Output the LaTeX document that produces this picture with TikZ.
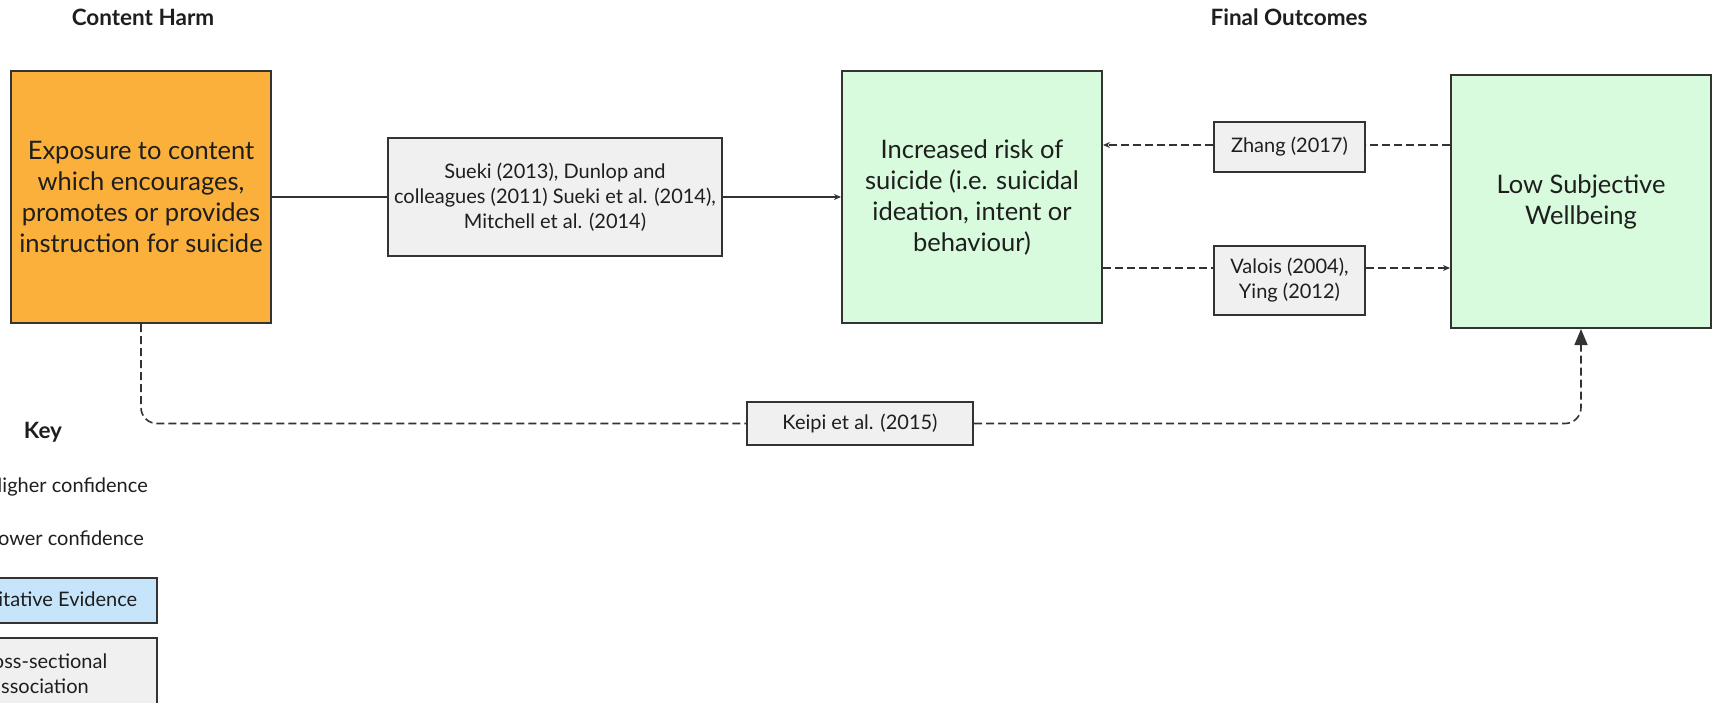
\documentclass[tikz,border=0pt]{standalone}
\usepackage{fontspec}
\setmainfont{Lato}
\usetikzlibrary{arrows.meta,calc}
\definecolor{harm}{HTML}{FBB03B}
\definecolor{outcome}{HTML}{D7FBDC}
\definecolor{cite}{HTML}{F0F0F0}
\definecolor{quant}{HTML}{C6E5FA}
\definecolor{ink}{HTML}{1E1E1E}
\definecolor{edge}{HTML}{333333}

\begin{document}
\begin{tikzpicture}[x=1pt,y=-1pt,
  box/.style={draw=edge, line width=2pt, align=center, text=ink, inner sep=4pt},
  bigbox/.style={box, minimum width=260pt, minimum height=252pt, font=\fontsize{25.5}{31}\selectfont},
  citebox/.style={box, fill=cite, font=\fontsize{20}{25}\selectfont},
  keytext/.style={text=ink, inner sep=0pt, font=\fontsize{20}{25}\selectfont},
  link/.style={draw=edge, line width=1.6pt},
  lowconf/.style={link, dash pattern=on 8pt off 4pt},
  tip/.style={-{Stealth[length=7pt,width=6pt]}},
  title/.style={font=\bfseries\fontsize{22.5}{26}\selectfont, text=ink},
]
\useasboundingbox (0,0) rectangle (1713,702);
\clip (0,0) rectangle (1713,702);

% column titles
\node[title] (t1) at (143,17) {Content Harm};
\node[title] (t2) at (1289,17) {Final Outcomes};

% main boxes
\node[bigbox, fill=harm] (harm) at (141,197)
  {Exposure to content\\ which encourages,\\ promotes or provides\\ instruction for suicide};
\node[bigbox, fill=outcome] (risk) at (972,197)
  {Increased risk of\\ suicide (i.e. suicidal\\ ideation, intent or\\ behaviour)};
\node[bigbox, fill=outcome, minimum height=253pt] (lsw) at (1581,201.5)
  {Low Subjective\\ Wellbeing};

% evidence boxes
\node[citebox, minimum width=334pt, minimum height=118pt] (sueki) at (555,197)
  {Sueki (2013), Dunlop and\\ colleagues (2011) Sueki et al. (2014),\\ Mitchell et al. (2014)};
\node[citebox, minimum width=151pt, minimum height=50pt] (zhang) at (1289.5,147) {Zhang (2017)};
\node[citebox, minimum width=151pt, minimum height=69pt] (valois) at (1289.5,280.5) {Valois (2004),\\ Ying (2012)};
\node[citebox, minimum width=226pt, minimum height=43pt] (keipi) at (860,423.5) {Keipi et al. (2015)};

% connectors
\draw[link] (harm.east) -- (sueki.west);
\draw[link, tip] (sueki.east) -- (risk.west);

\coordinate (zy) at (0,145);
\draw[lowconf] (lsw.west |- zy) -- (zhang.east |- zy);
\draw[lowconf, tip] (zhang.west |- zy) -- (risk.east |- zy);

\coordinate (vy) at (0,268);
\draw[lowconf] (risk.east |- vy) -- (valois.west |- vy);
\draw[lowconf, tip] (valois.east |- vy) -- (lsw.west |- vy);

\coordinate (ky) at (0,423.5);
\draw[lowconf, rounded corners=16pt] (harm.south) -- (harm.south |- ky) -- (keipi.west);
\draw[lowconf, rounded corners=16pt, -{Triangle[length=16pt,width=13pt]}]
  (keipi.east) -- (lsw.south |- ky) -- (lsw.south);

% key
\node[title] (keytitle) at (43,432) {Key};
\node[keytext, anchor=east] (hi) at (148,487) {Higher confidence};
\node[keytext, anchor=east] (lo) at (144,538) {Lower confidence};
\node[citebox, fill=quant, minimum width=234pt, minimum height=45pt] (qkey) at (40,600.5) {Quantitative Evidence};
\node[citebox, minimum width=234pt, minimum height=72pt, anchor=north] (ckey) at (40,637) {Cross-sectional\\ association};
\end{tikzpicture}
\end{document}
